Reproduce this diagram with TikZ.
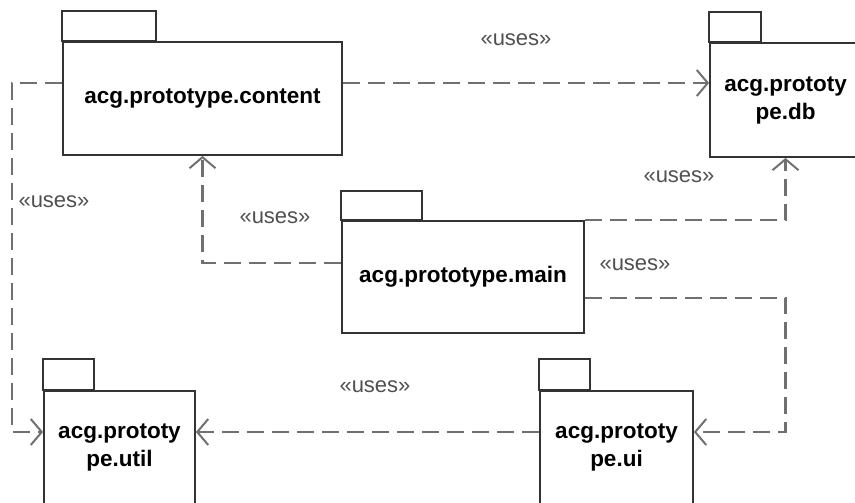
\documentclass[tikz,border=0pt]{standalone}
\usepackage{fontspec}
\setmainfont{Liberation Sans}
\usetikzlibrary{arrows.meta}
\definecolor{boxline}{HTML}{333333}
\definecolor{depgray}{HTML}{707070}
\definecolor{labelgray}{HTML}{505050}
\begin{document}
\begin{tikzpicture}[x=1pt,y=-1pt,
  pkg/.style={draw=boxline, line width=1.8pt, fill=white, inner sep=0pt,
    font=\fontsize{22.5}{28}\selectfont\bfseries, align=center, text=black},
  pkgtab/.style={draw=boxline, line width=1.8pt},
  dep/.style={draw=depgray, line width=2.7pt, dash pattern=on 17pt off 8pt,
    -{Straight Barb[length=11pt,width=26pt,line width=2pt]}},
  uses/.style={font=\fontsize{22}{26}\selectfont, text=labelgray, inner sep=0pt}]
\useasboundingbox (0,0) rectangle (855,503);
\clip (0,0) rectangle (855,503);

% package bodies
\node[pkg, minimum width=279pt, minimum height=113pt] (content) at (202.5,98.5) {acg.prototype.content};
\node[pkg, minimum width=151pt, minimum height=114pt] (db) at (785.5,100) {acg.prototy\\pe.db};
\node[pkg, minimum width=242pt, minimum height=112pt] (main) at (463,277) {acg.prototype.main};
\node[pkg, minimum width=153pt, minimum height=113pt] (ui) at (616.5,447.5) {acg.prototy\\pe.ui};
\node[pkg, minimum width=151pt, minimum height=113pt] (util) at (119.5,447.5) {acg.prototy\\pe.util};

% package tabs
\draw[pkgtab] (content.north west) rectangle ++(94,-30);
\draw[pkgtab] (db.north west) rectangle ++(52,-30);
\draw[pkgtab] (main.north west) rectangle ++(81,-29);
\draw[pkgtab] (ui.north west) rectangle ++(51,-31);
\draw[pkgtab] (util.north west) rectangle ++(51,-31);

% dependencies
\coordinate (uiin) at ([yshift=15.5pt]ui.east);
\draw[dep] ([yshift=15.5pt]content.east) -- ([yshift=15.5pt]content.east -| db.west);
\draw[dep] ([yshift=15.5pt]content.west) -- ++(-50,0) |- ([yshift=15.5pt]util.west);
\draw[dep] ([yshift=14pt]main.west) -| (content.south);
\draw[dep] (main.north east) -| (db.south);
\draw[dep] ([yshift=-21pt]main.east) -| (db.south |- uiin) -- (uiin);
\draw[dep] ([yshift=15.5pt]ui.west) -- ([yshift=15.5pt]util.east);

% stereotype labels
\node[uses] (u1) at (516,40) {«uses»};
\node[uses] (u2) at (679,177) {«uses»};
\node[uses] (u3) at (275,218) {«uses»};
\node[uses] (u4) at (635,265) {«uses»};
\node[uses] (u5) at (375,387) {«uses»};
\node[uses] (u6) at (54,202) {«uses»};
\end{tikzpicture}
\end{document}
